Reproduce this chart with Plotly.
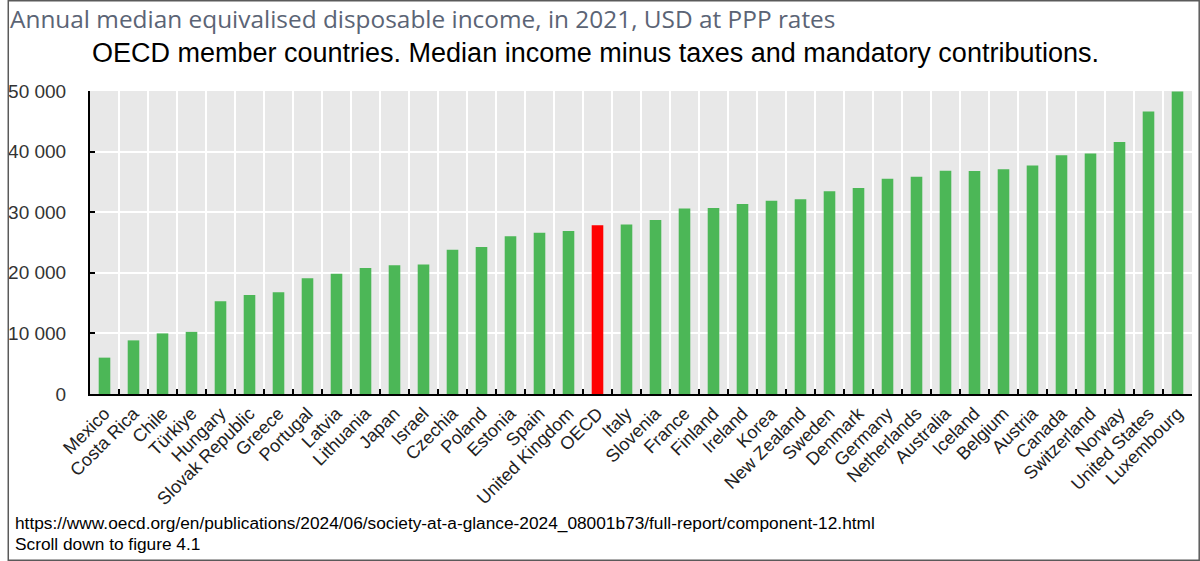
import plotly.graph_objects as go

# data (USD at PPP, 2021)
countries = [
    "Mexico", "Costa Rica", "Chile", "Türkiye", "Hungary", "Slovak Republic",
    "Greece", "Portugal", "Latvia", "Lithuania", "Japan", "Israel", "Czechia",
    "Poland", "Estonia", "Spain", "United Kingdom", "OECD", "Italy", "Slovenia",
    "France", "Finland", "Ireland", "Korea", "New Zealand", "Sweden", "Denmark",
    "Germany", "Netherlands", "Australia", "Iceland", "Belgium", "Austria",
    "Canada", "Switzerland", "Norway", "United States", "Luxembourg",
]
income = [
    6000, 8850, 10000, 10250, 15300, 16350,
    16800, 19100, 19850, 20800, 21250, 21350, 23800,
    24250, 26050, 26600, 26900, 27850, 27950, 28700,
    30600, 30700, 31350, 31900, 32150, 33450, 34000,
    35500, 35850, 36850, 36800, 37100, 37700,
    39400, 39700, 41600, 46600, 49900,
]
y_ticks = [0, 10000, 20000, 30000, 40000, 50000]
y_tick_labels = ["0", "10 000", "20 000", "30 000", "40 000", "50 000"]

colors = ["#FF0000" if c == "OECD" else "#4CB757" for c in countries]

fig = go.Figure(go.Bar(
    x=countries,
    y=income,
    marker=dict(color=colors, line=dict(width=0)),
))

W, H = 1200, 561
ml, mr, mt, mb = 83, 8, 91, 167
pw, ph = W - ml - mr, H - mt - mb

fig.update_layout(
    width=W, height=H,
    margin=dict(l=ml, r=mr, t=mt, b=mb),
    paper_bgcolor="white",
    plot_bgcolor="#E8E8E8",
    bargap=0.6,
    showlegend=False,
    font=dict(family="Arial, Liberation Sans", color="#222"),
    xaxis=dict(
        type="category",
        tickson="boundaries",
        showgrid=True, gridcolor="white", gridwidth=1.5,
        ticks="inside", ticklen=5, tickcolor="black", tickwidth=1.5,
        showline=True, linecolor="black", linewidth=2,
        tickangle=-45,
        tickfont=dict(size=18, color="#222"),
    ),
    yaxis=dict(
        range=[0, 50000],
        tickvals=y_ticks, ticktext=y_tick_labels,
        showgrid=True, gridcolor="white", gridwidth=2,
        ticks="inside", ticklen=5, tickcolor="black", tickwidth=1.5,
        showline=True, linecolor="black", linewidth=2,
        zeroline=False,
        ticklabelstandoff=18,
        tickfont=dict(size=19, color="#333"),
    ),
    shapes=[dict(
        type="rect", xref="paper", yref="paper",
        x0=-ml / pw + 0.75 / pw, x1=1 + (mr - 0.75) / pw,
        y0=-mb / ph + 0.75 / ph, y1=1 + (mt - 0.75) / ph,
        line=dict(color="#5a5a5a", width=1.5),
        fillcolor="rgba(0,0,0,0)",
    )],
    annotations=[
        dict(
            text="Annual median equivalised disposable income, in 2021, USD at PPP rates",
            xref="paper", yref="paper",
            x=(0 - ml) / pw, y=1 + (mt - 18) / ph,
            xanchor="left", yanchor="middle", showarrow=False,
            font=dict(family="Open Sans", size=24.4, color="#5B6475"),
        ),
        dict(
            text="OECD member countries. Median income minus taxes and mandatory contributions.",
            xref="paper", yref="paper",
            x=(592 - ml) / pw, y=1 + (mt - 53) / ph,
            xanchor="center", yanchor="middle", showarrow=False,
            font=dict(family="Arial, Liberation Sans", size=27, color="black"),
        ),
        dict(
            text="https://www.oecd.org/en/publications/2024/06/society-at-a-glance-2024_08001b73/full-report/component-12.html",
            xref="paper", yref="paper",
            x=(6 - ml) / pw, y=-(523 - mt - ph) / ph,
            xanchor="left", yanchor="middle", showarrow=False,
            font=dict(family="Arial, Liberation Sans", size=17.3, color="black"),
        ),
        dict(
            text="Scroll down to figure 4.1",
            xref="paper", yref="paper",
            x=(6 - ml) / pw, y=-(544 - mt - ph) / ph,
            xanchor="left", yanchor="middle", showarrow=False,
            font=dict(family="Arial, Liberation Sans", size=17.3, color="black"),
        ),
    ],
)

fig.write_html(
    "out.html",
    config={"displayModeBar": False},
    post_script="document.body.style.margin='0';",
)
